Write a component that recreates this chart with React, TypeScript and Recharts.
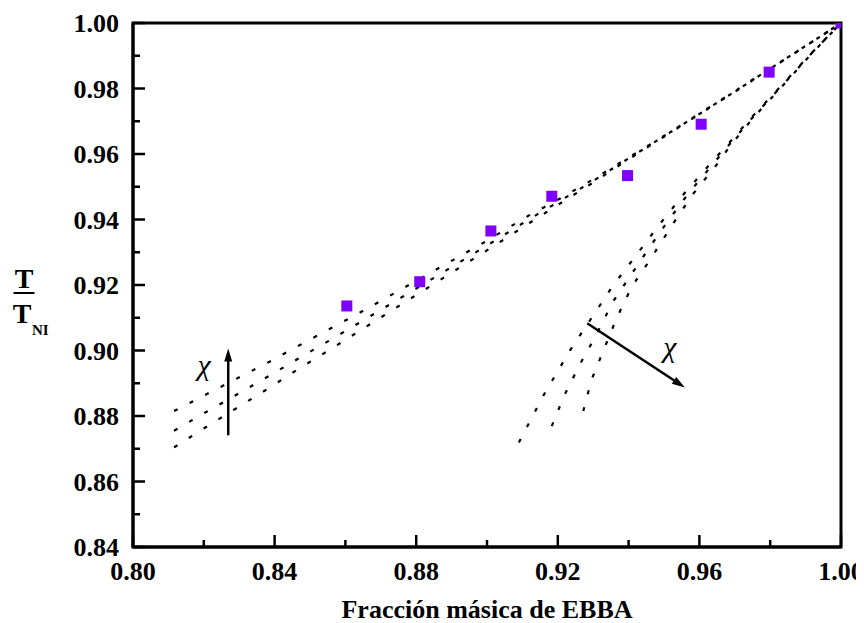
import React from 'react';
import { ComposedChart, Line, Scatter, XAxis, YAxis, ReferenceLine, ReferenceArea } from 'recharts';

// Experimental points (purple squares)
const expX = [0.8604, 0.881, 0.9011, 0.9183, 0.9397, 0.9605, 0.9797, 1.0];
const expY = [0.9136, 0.921, 0.9365, 0.9471, 0.9534, 0.9691, 0.985, 1.0];

// Family A (upper, nearly parallel dotted curves)
const aX = [0.8116, 0.8203, 0.8291, 0.8379, 0.8465, 0.8554, 0.864, 0.8858, 0.899, 0.9121, 0.9208, 0.9296, 0.9383, 0.947, 0.9557, 0.9646, 0.9689, 0.9776, 0.9864, 0.9952, 1.0];
const a1Y = [0.8815, 0.8864, 0.8913, 0.8962, 0.9013, 0.9065, 0.9115, 0.9248, 0.9329, 0.9414, 0.9465, 0.952, 0.9578, 0.9635, 0.9694, 0.9755, 0.9784, 0.9845, 0.9905, 0.9966, 1.0];
const a2Y = [0.8755, 0.881, 0.8864, 0.8919, 0.8974, 0.903, 0.9085, 0.9227, 0.9314, 0.9402, 0.9458, 0.9515, 0.9575, 0.9634, 0.9693, 0.9754, 0.9783, 0.9844, 0.9905, 0.9966, 1.0];
const a3Y = [0.8704, 0.8764, 0.8823, 0.8882, 0.8942, 0.9001, 0.906, 0.9209, 0.9299, 0.939, 0.945, 0.951, 0.9572, 0.9632, 0.9692, 0.9753, 0.9782, 0.9843, 0.9904, 0.9966, 1.0];

// Family B (steep dotted curves)
const b1X = [0.909, 0.9159, 0.9236, 0.9324, 0.9353, 0.9418, 0.9486, 0.9556, 0.9633, 0.9675, 0.9749, 0.983, 0.9912, 1.0];
const b1Y = [0.8719, 0.8862, 0.9003, 0.9146, 0.9194, 0.9286, 0.9383, 0.9478, 0.9573, 0.9623, 0.9714, 0.9807, 0.9903, 1.0];
const b2X = [0.9183, 0.9218, 0.9261, 0.931, 0.9354, 0.9384, 0.9441, 0.9503, 0.9568, 0.9641, 0.968, 0.9752, 0.9832, 0.9913, 1.0];
const b2Y = [0.8769, 0.8862, 0.8955, 0.905, 0.9146, 0.9194, 0.9286, 0.9383, 0.9478, 0.9573, 0.9623, 0.9714, 0.9807, 0.9903, 1.0];
const b3X = [0.9272, 0.9295, 0.933, 0.9366, 0.9409, 0.9466, 0.9523, 0.9582, 0.9653, 0.9685, 0.9755, 0.9834, 0.9914, 1.0];
const b3Y = [0.8815, 0.891, 0.9003, 0.9098, 0.9195, 0.9286, 0.9383, 0.9478, 0.9573, 0.9623, 0.9714, 0.9807, 0.9903, 1.0];

// Ticks
const xTicks = [0.8, 0.82, 0.84, 0.86, 0.88, 0.9, 0.92, 0.94, 0.96, 0.98, 1.0];
const xMajor = ['0.80', '0.84', '0.88', '0.92', '0.96', '1.00'];
const yTicks = [0.84, 0.85, 0.86, 0.87, 0.88, 0.89, 0.9, 0.91, 0.92, 0.93, 0.94, 0.95, 0.96, 0.97, 0.98, 0.99, 1.0];
const yMajor = ['0.84', '0.86', '0.88', '0.90', '0.92', '0.94', '0.96', '0.98', '1.00'];

// Annotation arrows (data coordinates)
const arrowUp = [{ x: 0.8269, y: 0.8741 }, { x: 0.8269, y: 0.9006 }];
const arrowDiag = [{ x: 0.9283, y: 0.9083 }, { x: 0.9559, y: 0.8887 }];

const toPts = (xs: number[], ys: number[]) => xs.map((x, i) => ({ x, y: ys[i] }));

const expData = toPts(expX, expY);
const lines = [toPts(aX, a1Y), toPts(aX, a2Y), toPts(aX, a3Y), toPts(b1X, b1Y), toPts(b2X, b2Y), toPts(b3X, b3Y)];

const serif = { fontFamily: 'Liberation Serif, Times New Roman, serif' };

const XTick = (props: any) => {
  const { x, y, payload } = props;
  const label = Number(payload.value).toFixed(2);
  const major = xMajor.includes(label);
  return (
    <g>
      <line x1={x} x2={x} y1={y} y2={y - (major ? 12 : 7)} stroke="#000" strokeWidth={2.5} />
      {major && (
        <text x={x} y={y + 33} textAnchor="middle" style={serif} fontWeight="bold" fontSize={26} fill="#000">
          {label}
        </text>
      )}
    </g>
  );
};

const YTick = (props: any) => {
  const { x, y, payload } = props;
  const label = Number(payload.value).toFixed(2);
  const major = yMajor.includes(label);
  return (
    <g>
      <line x1={x} x2={x + (major ? 12 : 7)} y1={y} y2={y} stroke="#000" strokeWidth={2.5} />
      {major && (
        <text x={x - 14} y={y + 9} textAnchor="end" style={serif} fontWeight="bold" fontSize={26} fill="#000">
          {label}
        </text>
      )}
    </g>
  );
};

const Square = (props: any) => {
  const { cx, cy } = props;
  if (cx == null || cy == null) return null;
  return <rect x={cx - 5.5} y={cy - 5.5} width={11} height={11} fill="#7f00ff" />;
};

const arrowHead = (x1: number, y1: number, x2: number, y2: number) => {
  const dx = x2 - x1;
  const dy = y2 - y1;
  const len = Math.sqrt(dx * dx + dy * dy);
  const ux = dx / len;
  const uy = dy / len;
  const L = 13;
  const w = 4;
  const bx = x2 - ux * L;
  const by = y2 - uy * L;
  return `${x2},${y2} ${bx - uy * w},${by + ux * w} ${bx + uy * w},${by - ux * w}`;
};

const makeArrow = (lx: number, ly: number) => (props: any) => {
  const { x1, y1, x2, y2 } = props;
  if (x1 == null) return null;
  const dx = x2 - x1;
  const dy = y2 - y1;
  const len = Math.sqrt(dx * dx + dy * dy);
  const ex = x2 - (dx / len) * 10;
  const ey = y2 - (dy / len) * 10;
  return (
    <g>
      <line x1={x1} y1={y1} x2={ex} y2={ey} stroke="#000" strokeWidth={2.5} />
      <polygon points={arrowHead(x1, y1, x2, y2)} fill="#000" />
      <text x={x2 + lx} y={y2 + ly} textAnchor="middle" style={serif} fontStyle="italic" fontSize={30} fill="#000">
        χ
      </text>
    </g>
  );
};

const ArrowUp = makeArrow(-24, 26);
const ArrowDiag = makeArrow(-15, -31);

const YTitle = (props: any) => {
  const vb = props.viewBox || { x: 0, y: 0, width: 0, height: 0 };
  const cx = vb.x + 16;
  const cy = vb.y + vb.height / 2;
  return (
    <g style={serif} fontWeight="bold" fill="#000">
      <text x={cx} y={cy + 3} textAnchor="middle" fontSize={28} style={serif}>T</text>
      <line x1={cx - 10.5} x2={cx + 10.5} y1={cy + 8} y2={cy + 8} stroke="#000" strokeWidth={2} />
      <text x={cx - 2} y={cy + 38} textAnchor="middle" fontSize={28} style={serif}>T</text>
      <text x={cx + 8} y={cy + 50} textAnchor="start" fontSize={15} style={serif}>NI</text>
    </g>
  );
};

const XTitle = (props: any) => {
  const vb = props.viewBox || { x: 0, y: 0, width: 0, height: 0 };
  return (
    <text x={vb.x + vb.width / 2} y={vb.y + 71} textAnchor="middle" style={serif} fontWeight="bold" fontSize={26} fill="#000">
      Fracción másica de EBBA
    </text>
  );
};

export default function App() {
  return (
    <ComposedChart width={856} height={615} margin={{ top: 15, right: 23, left: 0, bottom: 0 }}>
      <XAxis
        type="number"
        dataKey="x"
        domain={[0.8, 1.0]}
        ticks={xTicks}
        allowDataOverflow
        height={76}
        tickSize={0}
        tickMargin={0}
        tick={<XTick />}
        axisLine={{ stroke: '#000', strokeWidth: 3 }}
        label={<XTitle />}
        interval={0}
      />
      <YAxis
        type="number"
        dataKey="y"
        domain={[0.84, 1.0]}
        ticks={yTicks}
        allowDataOverflow
        width={125}
        tickSize={0}
        tickMargin={0}
        tick={<YTick />}
        axisLine={{ stroke: '#000', strokeWidth: 3 }}
        label={<YTitle />}
        interval={0}
      />
      <ReferenceArea
        x1={0.8}
        x2={1.0}
        y1={0.84}
        y2={1.0}
        fill="none"
        fillOpacity={0}
        stroke="#000"
        strokeWidth={3}
        strokeOpacity={1}
        ifOverflow="visible"
      />
      {lines.map((d, i) => (
        <Line
          key={i}
          data={d}
          dataKey="y"
          type="linear"
          stroke="#000"
          strokeWidth={2.2}
          strokeDasharray="4 13.5"
          dot={false}
          activeDot={false}
          isAnimationActive={false}
        />
      ))}
      <Scatter data={expData} dataKey="y" shape={<Square />} isAnimationActive={false} />
      <ReferenceLine segment={arrowUp} shape={ArrowUp} ifOverflow="visible" />
      <ReferenceLine segment={arrowDiag} shape={ArrowDiag} ifOverflow="visible" />
    </ComposedChart>
  );
}
